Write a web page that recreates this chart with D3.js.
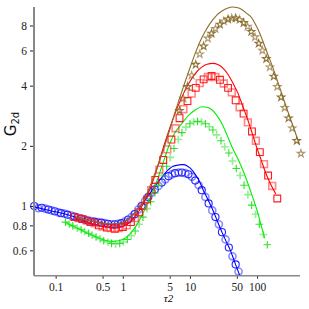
<!DOCTYPE html>
<html>
<head>
<meta charset="utf-8">
<script src="https://cdn.jsdelivr.net/npm/d3@7/dist/d3.min.js"></script>
<style>
  html, body { margin: 0; padding: 0; background: #fff; }
  svg { display: block; }
</style>
</head>
<body>
<script>
// measured points (markers)
const tauBlue = [0.048,0.055,0.062,0.07,0.078,0.087,0.097,0.11,0.12,0.135,0.15,0.17,0.19,0.21,0.24,0.27,0.3,0.34,0.38,0.43,0.48,0.54,0.6,0.68,0.76,0.85,0.95,1.07,1.2,1.35,1.5,1.7,1.9,2.15,2.4,2.7,3.0,3.4,3.8,4.3,4.8,5.4,6.0,6.8,7.6,8.5,9.5,10.7,12,13.5,15,17,19,21.5,24,27,30,34,38,43,48,53];
const gBlue   = [1.0,0.975,0.98,0.97,0.96,0.95,0.94,0.93,0.92,0.915,0.905,0.895,0.885,0.875,0.865,0.855,0.845,0.84,0.835,0.83,0.825,0.82,0.815,0.81,0.81,0.815,0.82,0.835,0.855,0.88,0.91,0.96,1.0,1.06,1.11,1.17,1.21,1.26,1.31,1.36,1.41,1.44,1.46,1.47,1.47,1.46,1.44,1.40,1.34,1.27,1.20,1.11,1.03,0.95,0.88,0.81,0.74,0.68,0.62,0.56,0.51,0.47];

const tauGreen = [0.14,0.16,0.18,0.21,0.24,0.27,0.31,0.35,0.4,0.46,0.52,0.6,0.68,0.78,0.9,1.02,1.17,1.34,1.53,1.75,2.0,2.3,2.6,3.0,3.4,3.9,4.5,5.1,5.8,6.7,7.6,8.7,10,11.4,13,14.9,17,19.4,22,25,29,33,38,43,49,56,64,73,83,95,108,124,142];
const gGreen   = [0.83,0.81,0.795,0.775,0.76,0.745,0.73,0.715,0.70,0.685,0.67,0.66,0.65,0.645,0.65,0.66,0.68,0.71,0.75,0.81,0.88,0.97,1.05,1.16,1.27,1.42,1.58,1.75,1.94,2.15,2.33,2.48,2.58,2.63,2.65,2.63,2.58,2.49,2.40,2.27,2.12,1.98,1.84,1.68,1.54,1.42,1.27,1.14,1.01,0.91,0.81,0.72,0.64];

const tauRed = [0.19,0.22,0.25,0.29,0.33,0.38,0.44,0.5,0.58,0.66,0.76,0.87,1.0,1.15,1.32,1.52,1.75,2.0,2.3,2.65,3.05,3.5,4.0,4.6,5.3,6.1,7.0,8.0,9.2,10.6,12.2,14,16,18.5,21,24,28,32,37,42,48,55,63,73,84,96,110,127,146,168,200];
const gRed   = [0.88,0.87,0.86,0.845,0.83,0.82,0.80,0.79,0.78,0.775,0.77,0.775,0.785,0.80,0.83,0.87,0.93,1.0,1.08,1.2,1.35,1.52,1.70,1.92,2.15,2.45,2.75,3.05,3.35,3.65,3.90,4.12,4.30,4.42,4.47,4.42,4.28,4.10,3.90,3.70,3.38,3.12,2.90,2.62,2.36,2.12,1.86,1.62,1.42,1.26,1.09];

const tauBrown = [7.0,8.0,9.2,10.6,12.2,14,16,18.5,21,24,28,32,37,42,48,55,63,72,82,93,106,120,137,155,177,200,228,258,294,335,390,450];
const gBrown   = [3.0,3.45,3.95,4.5,5.1,5.75,6.3,6.9,7.3,7.7,8.1,8.4,8.6,8.7,8.7,8.55,8.25,7.9,7.45,7.0,6.5,6.0,5.45,4.95,4.45,3.95,3.5,3.1,2.75,2.45,2.12,1.83];

// model curves (lines)
const tauBlueFit = [0.048,0.07,0.1,0.15,0.2,0.3,0.5,0.7,1.0,1.5,2,2.5,3,3.5,4,4.5,5,5.6,6.5,7.5,8,9,10,11,12,14,16,18,20,23,26,30,35,40,45,50,55];
const gBlueFit   = [0.99,0.96,0.935,0.905,0.88,0.85,0.82,0.81,0.83,0.92,1.04,1.15,1.25,1.34,1.42,1.49,1.54,1.58,1.60,1.61,1.61,1.59,1.55,1.50,1.44,1.32,1.19,1.10,1.02,0.92,0.83,0.74,0.66,0.60,0.54,0.49,0.45];

const tauGreenFit = [0.14,0.2,0.3,0.4,0.5,0.7,1.0,1.3,1.6,2.0,2.5,3,4,5,6,7,8,9,10,12,15,18,21,25,30,36,43,52,60,70,85,100,115,130];
const gGreenFit   = [0.83,0.78,0.73,0.70,0.68,0.665,0.68,0.73,0.80,0.92,1.08,1.25,1.65,2.05,2.33,2.50,2.65,2.78,2.88,3.02,3.14,3.12,3.04,2.85,2.58,2.25,1.95,1.72,1.54,1.35,1.12,0.95,0.80,0.69];

const tauRedFit = [0.19,0.3,0.5,0.75,1.0,1.5,2,2.5,3,4,5,6,7,8,10,12,15,18,22,26,31,37,44,52,62,73,85,97,115,136,160,190];
const gRedFit   = [0.87,0.83,0.79,0.775,0.79,0.88,1.02,1.2,1.42,1.95,2.45,2.9,3.3,3.65,4.2,4.6,4.95,5.12,5.17,5.1,4.9,4.55,4.1,3.66,3.12,2.69,2.30,2.0,1.70,1.45,1.28,1.15];

const tauBrownFit = [0.2,0.3,0.5,0.75,1.0,1.5,2,3,4,5,6,7,8,10,12,14,17,20,25,30,36,43,50,60,70,82,95,110,130,150,171,200,240,290,360,430];
const gBrownFit   = [0.88,0.85,0.82,0.815,0.83,0.92,1.05,1.45,1.9,2.4,2.95,3.45,3.95,4.9,5.8,6.6,7.5,8.2,9.0,9.45,9.75,9.9,9.85,9.6,9.2,8.8,8.1,7.3,6.3,5.55,4.95,4.25,3.55,2.95,2.4,2.02];

const xTicks = [0.1, 0.5, 1, 5, 10, 50, 100];
const yTicks = [0.6, 0.8, 1, 2, 4, 6, 8];

const width = 309, height = 309;
const margin = {top: 7, right: 9, bottom: 33.3, left: 34};

const svg = d3.select("body").append("svg")
    .attr("width", width)
    .attr("height", height);

const x = d3.scaleLog()
    .domain([0.0476, 436])
    .range([margin.left, width - margin.right]);

const y = d3.scaleLog()
    .domain([0.448, 9.9])
    .range([height - margin.bottom, margin.top]);

const series = [
  {tau: tauBlue, g: gBlue, ft: tauBlueFit, fg: gBlueFit, marker: "circle", color: "#1a1aff", line: "#0000ff"},
  {tau: tauGreen, g: gGreen, ft: tauGreenFit, fg: gGreenFit, marker: "plus", color: "#22e022", line: "#00ee00"},
  {tau: tauRed, g: gRed, ft: tauRedFit, fg: gRedFit, marker: "square", color: "#ff1010", line: "#ff0000"},
  {tau: tauBrown, g: gBrown, ft: tauBrownFit, fg: gBrownFit, marker: "star", color: "#8a6a2a", line: "#8c6d2c"}
];

const plusPath = "M-3.8,0H3.8M0,-3.8V3.8";
const symbolPath = {
  circle: d3.symbol(d3.symbolCircle, 40)(),
  square: d3.symbol(d3.symbolSquare, 46)(),
  star: d3.symbol(d3.symbolStar, 17)(),
  plus: plusPath
};

const line = d3.line()
    .x(d => x(d[0]))
    .y(d => y(d[1]))
    .curve(d3.curveMonotoneX);

series.forEach(s => {
  const star = s.marker === "star";
  const pts = s.tau.map((t, i) => [t, s.g[i]]);
  svg.append("g")
    .selectAll("path")
    .data(pts)
    .join("path")
      .attr("transform", d => `translate(${x(d[0])},${y(d[1])})`)
      .attr("d", symbolPath[s.marker])
      .attr("fill", "none")
      .attr("stroke", s.color)
      .attr("stroke-width", (d, i) => star ? 1.1 : (i % 2 ? 1.6 : 1.1))
      .attr("stroke-opacity", (d, i) => i % 2 ? (star ? 0.7 : 0.5) : 0.95);

  svg.append("path")
      .datum(s.ft.map((t, i) => [t, s.fg[i]]))
      .attr("fill", "none")
      .attr("stroke", s.line)
      .attr("stroke-width", 1.1)
      .attr("d", line);
});

// axes
const xAxis = svg.append("g")
    .attr("transform", `translate(0,${height - margin.bottom})`)
    .call(d3.axisBottom(x).tickValues(xTicks).tickFormat(d3.format("")).tickSize(3).tickPadding(4.5));

const yAxis = svg.append("g")
    .attr("transform", `translate(${margin.left},0)`)
    .call(d3.axisLeft(y).tickValues(yTicks).tickFormat(d3.format("")).tickSize(4).tickPadding(3));

[xAxis, yAxis].forEach(a => {
  a.select(".domain").remove();
  a.selectAll("text")
      .attr("font-family", "'Liberation Serif', 'DejaVu Serif', serif")
      .attr("font-size", 11.5)
      .attr("fill", "#222");
  a.selectAll("line").attr("stroke", "#222");
});

svg.append("line")
    .attr("x1", margin.left).attr("x2", margin.left)
    .attr("y1", margin.top).attr("y2", height - margin.bottom)
    .attr("stroke", "#888").attr("stroke-width", 2);

svg.append("line")
    .attr("x1", margin.left).attr("x2", width - margin.right)
    .attr("y1", height - margin.bottom).attr("y2", height - margin.bottom)
    .attr("stroke", "#888").attr("stroke-width", 1.5);

svg.append("text")
    .attr("x", 168.5)
    .attr("y", 302)
    .attr("text-anchor", "middle")
    .attr("font-family", "'Liberation Serif', serif")
    .attr("font-style", "italic")
    .attr("font-size", 11)
    .text("τ2");

const ylab = svg.append("text")
    .attr("transform", "translate(16,124) rotate(-90)")
    .attr("text-anchor", "middle")
    .attr("font-family", "'DejaVu Sans', sans-serif")
    .attr("font-size", 15)
    .attr("fill", "#111");
ylab.append("tspan").text("G");
ylab.append("tspan").attr("font-size", 10).attr("dy", 3).text("2d");
</script>
</body>
</html>
